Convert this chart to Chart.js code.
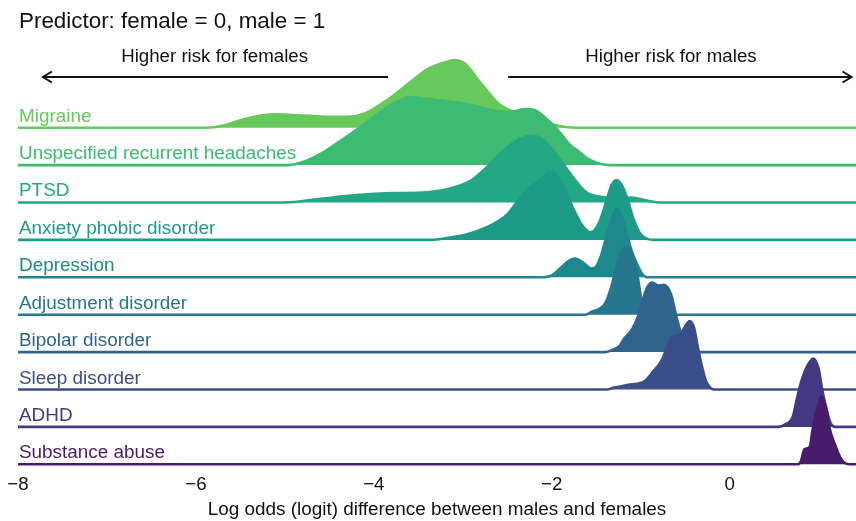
<!DOCTYPE html>
<html>
<head>
<meta charset="utf-8">
<title>Sex differences in diagnosis risk</title>
<script src="https://cdn.jsdelivr.net/npm/chart.js@4.4.1/dist/chart.umd.min.js"></script>
<style>
  html, body { margin: 0; padding: 0; background: #ffffff; }
  #wrap { width: 856px; height: 521px; }
</style>
</head>
<body>
<div id="wrap"><canvas id="ridges" width="856" height="521"></canvas></div>
<script>
// Diagnoses, top row first
const categories = [
  'Migraine',
  'Unspecified recurrent headaches',
  'PTSD',
  'Anxiety phobic disorder',
  'Depression',
  'Adjustment disorder',
  'Bipolar disorder',
  'Sleep disorder',
  'ADHD',
  'Substance abuse'
];

const rowColors = [
  '#66c95c', '#3dbb73', '#22a884', '#1e9a89', '#1d898d',
  '#26778e', '#30648d', '#3c4e8a', '#443882', '#481b6d'
];

const xTicks = [-8, -6, -4, -2, 0];

// Posterior density of the male-vs-female logit difference: [logit, relative height]
const migraine = [
  [-5.9, 0], [-5.7, 0.05], [-5.5, 0.2], [-5.25, 0.33], [-5.1, 0.36], [-4.9, 0.34],
  [-4.6, 0.3], [-4.3, 0.29], [-4.1, 0.38], [-3.85, 0.74], [-3.6, 1.2], [-3.4, 1.56],
  [-3.2, 1.75], [-3.1, 1.81], [-2.98, 1.72], [-2.8, 1.2], [-2.6, 0.65], [-2.4, 0.4],
  [-2.2, 0.28], [-2.0, 0.1], [-1.85, 0.02], [-1.7, 0]
];
const headaches = [
  [-4.95, 0], [-4.8, 0.08], [-4.6, 0.3], [-4.45, 0.53], [-4.25, 0.85], [-4.05, 1.2],
  [-3.85, 1.55], [-3.7, 1.74], [-3.6, 1.81], [-3.4, 1.77], [-3.2, 1.71], [-3.0, 1.65],
  [-2.8, 1.55], [-2.6, 1.44], [-2.45, 1.43], [-2.3, 1.5], [-2.2, 1.48], [-2.05, 1.22],
  [-1.9, 0.85], [-1.8, 0.55], [-1.69, 0.35], [-1.58, 0.15], [-1.45, 0.03], [-1.35, 0]
];
const ptsd = [
  [-5.0, 0], [-4.6, 0.1], [-4.2, 0.2], [-3.8, 0.25], [-3.4, 0.27], [-3.1, 0.4],
  [-2.9, 0.6], [-2.75, 0.9], [-2.55, 1.38], [-2.36, 1.7], [-2.21, 1.78], [-2.06, 1.6],
  [-1.91, 1.16], [-1.76, 0.67], [-1.61, 0.27], [-1.45, 0.15], [-1.3, 0.12], [-1.1, 0.13],
  [-0.95, 0.06], [-0.8, 0]
];
const anxiety = [
  [-3.35, 0], [-3.2, 0.04], [-2.95, 0.15], [-2.75, 0.32], [-2.6, 0.5], [-2.5, 0.68],
  [-2.38, 1.05], [-2.25, 1.38], [-2.12, 1.62], [-2.02, 1.8], [-1.95, 1.75], [-1.87, 1.45],
  [-1.77, 0.9], [-1.66, 0.4], [-1.56, 0.2], [-1.47, 0.45], [-1.39, 1.0], [-1.33, 1.45],
  [-1.27, 1.6], [-1.21, 1.45], [-1.15, 1.1], [-1.08, 0.55], [-1.0, 0.15], [-0.92, 0.02],
  [-0.85, 0]
];
const depression = [
  [-2.12, 0], [-2.0, 0.05], [-1.9, 0.25], [-1.8, 0.45], [-1.74, 0.5], [-1.65, 0.4],
  [-1.56, 0.24], [-1.52, 0.25], [-1.45, 0.55], [-1.38, 1.15], [-1.32, 1.6], [-1.27, 1.83],
  [-1.21, 1.6], [-1.15, 1.1], [-1.1, 0.7], [-1.04, 0.35], [-0.98, 0.08], [-0.92, 0]
];
const adjustment = [
  [-1.62, 0], [-1.55, 0.08], [-1.47, 0.15], [-1.4, 0.3], [-1.33, 0.75], [-1.26, 1.4],
  [-1.2, 1.75], [-1.15, 1.85], [-1.1, 1.65], [-1.05, 1.25], [-1.0, 0.5], [-0.97, 0.12],
  [-0.94, 0]
];
const bipolar = [
  [-1.4, 0], [-1.32, 0.06], [-1.24, 0.16], [-1.18, 0.38], [-1.1, 0.6], [-1.03, 0.96],
  [-0.97, 1.45], [-0.92, 1.76], [-0.87, 1.86], [-0.8, 1.78], [-0.74, 1.8], [-0.66, 1.55],
  [-0.6, 0.96], [-0.54, 0.43], [-0.5, 0.08], [-0.46, 0]
];
const sleep = [
  [-1.38, 0], [-1.3, 0.05], [-1.12, 0.13], [-0.96, 0.22], [-0.87, 0.45], [-0.76, 0.8],
  [-0.7, 1.16], [-0.64, 1.42], [-0.56, 1.47], [-0.51, 1.65], [-0.45, 1.83], [-0.4, 1.65],
  [-0.36, 1.16], [-0.31, 0.6], [-0.27, 0.25], [-0.22, 0.06], [-0.18, 0]
];
const adhd = [
  [0.55, 0], [0.62, 0.06], [0.71, 0.28], [0.76, 0.8], [0.81, 1.26], [0.87, 1.62],
  [0.94, 1.83], [1.0, 1.55], [1.04, 1.0], [1.09, 0.45], [1.13, 0.13], [1.18, 0]
];
const substance = [
  [0.76, 0], [0.8, 0.08], [0.84, 0.4], [0.9, 0.47], [0.93, 0.9], [0.98, 1.45],
  [1.03, 1.81], [1.09, 1.45], [1.12, 1.0], [1.18, 0.55], [1.24, 0.2], [1.29, 0.04],
  [1.35, 0]
];

const densities = [migraine, headaches, ptsd, anxiety, depression,
                   adjustment, bipolar, sleep, adhd, substance];

const X_MIN = -8;
const X_MAX = 1.42;
const FONT = "'Liberation Sans', Arial, Helvetica, sans-serif";

// One filled ridge per diagnosis, sitting on its own baseline (bottom row = 0)
const nRows = categories.length;
const datasets = categories.map((name, i) => {
  const base = nRows - 1 - i;
  const pts = [{ x: X_MIN, y: base }]
    .concat(densities[i].map(([x, h]) => ({ x: x, y: base + h })))
    .concat([{ x: X_MAX, y: base }]);
  return {
    label: name,
    data: pts,
    fill: { value: base },
    backgroundColor: rowColors[i],
    borderColor: rowColors[i],
    borderWidth: 2.6,
    pointRadius: 0,
    clip: false,
    cubicInterpolationMode: 'monotone',
    order: nRows - i   // lower rows are painted over the rows above them
  };
});

// Heading, direction arrows and row labels
const decorations = {
  id: 'decorations',
  afterDatasetsDraw(chart) {
    const ctx = chart.ctx;
    const xs = chart.scales.x;
    const ys = chart.scales.y;
    ctx.save();

    ctx.fillStyle = '#111111';
    ctx.font = '22.4px ' + FONT;
    ctx.textAlign = 'left';
    ctx.textBaseline = 'alphabetic';
    ctx.fillText('Predictor: female = 0, male = 1', 19, 28);

    ctx.font = '18.7px ' + FONT;
    ctx.textAlign = 'center';
    ctx.fillText('Higher risk for females', xs.getPixelForValue(-5.79), 62);
    ctx.fillText('Higher risk for males', xs.getPixelForValue(-0.66), 62);

    const arrowY = 77;
    const drawArrow = (from, to) => {
      const x0 = xs.getPixelForValue(from);
      const x1 = xs.getPixelForValue(to);
      const dir = Math.sign(x1 - x0);
      ctx.strokeStyle = '#111111';
      ctx.lineWidth = 2;
      ctx.beginPath();
      ctx.moveTo(x0, arrowY);
      ctx.lineTo(x1, arrowY);
      ctx.stroke();
      ctx.beginPath();
      ctx.moveTo(x1 - dir * 9, arrowY - 5.5);
      ctx.lineTo(x1, arrowY);
      ctx.lineTo(x1 - dir * 9, arrowY + 5.5);
      ctx.stroke();
    };
    drawArrow(-3.84, -7.72);
    drawArrow(-2.49, 1.37);

    ctx.font = '18.9px ' + FONT;
    ctx.textAlign = 'left';
    categories.forEach((name, i) => {
      const base = nRows - 1 - i;
      ctx.fillStyle = rowColors[i];
      ctx.fillText(name, 19, ys.getPixelForValue(base) - 6);
    });

    ctx.restore();
  }
};

new Chart(document.getElementById('ridges'), {
  type: 'line',
  data: { datasets: datasets },
  options: {
    responsive: false,
    devicePixelRatio: 1,
    animation: false,
    layout: { padding: { left: 18, right: 0, top: 8, bottom: 0 } },
    plugins: {
      legend: { display: false },
      tooltip: { enabled: false },
      filler: { drawTime: 'beforeDatasetDraw' }
    },
    scales: {
      x: {
        type: 'linear',
        min: X_MIN,
        max: X_MAX,
        grid: { display: false, drawTicks: false },
        border: { display: false },
        afterBuildTicks: (scale) => { scale.ticks = xTicks.map(v => ({ value: v })); },
        ticks: {
          includeBounds: false,
          padding: 2,
          color: '#111111',
          font: { family: FONT, size: 18.7 },
          callback: (v) => (v < 0 ? '\u2212' + Math.abs(v) : String(v))
        },
        title: {
          display: true,
          text: 'Log odds (logit) difference between males and females',
          color: '#111111',
          font: { family: FONT, size: 18.9 },
          padding: { top: 0.5, bottom: 0 }
        }
      },
      y: {
        display: false,
        min: -0.189,
        max: 12.2
      }
    }
  },
  plugins: [decorations]
});
</script>
</body>
</html>
